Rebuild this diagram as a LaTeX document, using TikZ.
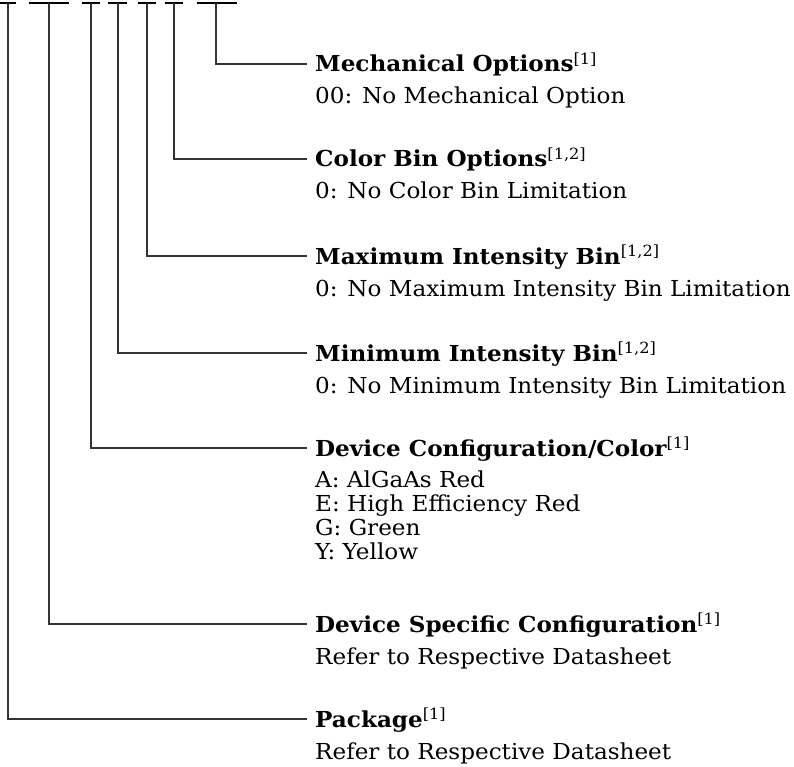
\documentclass[tikz,border=0pt]{standalone}
\usepackage{fontspec}
\setmainfont{DejaVu Serif}[FakeStretch=1.05]
\tikzset{
    titlebox/.style={anchor=west, inner xsep=8pt, inner ysep=0pt, text height=16pt, text depth=0pt,
                     font=\fontsize{22}{24}\selectfont\bfseries},
    descbox/.style={anchor=base west, inner xsep=8pt, inner ysep=0pt, align=left,
                    font=\fontsize{22}{23.7}\selectfont},
    barline/.style={line width=2.4pt, black},
    leadline/.style={line width=1.2pt, black!80},
}
\newcommand{\fnref}[1]{\textsuperscript{\mdseries[#1]}}
\begin{document}
\begin{tikzpicture}[x=1pt, y=-1pt]
            \useasboundingbox (0,0) rectangle (794,767);

            % Part number blanks
            \draw[barline] (0,3) -- (16,3);
            \draw[barline] (29,3) -- (69,3);
            \draw[barline] (82,3) -- (100,3);
            \draw[barline] (108,3) -- (127,3);
            \draw[barline] (138,3) -- (156,3);
            \draw[barline] (165,3) -- (183,3);
            \draw[barline] (197,3) -- (237,3);
            \coordinate (s1) at (8,3);
            \coordinate (s2) at (49,3);
            \coordinate (s3) at (91,3);
            \coordinate (s4) at (118,3);
            \coordinate (s5) at (147,3);
            \coordinate (s6) at (174,3);
            \coordinate (s7) at (216,3);

            % Fields
            \node[titlebox] (mech) at (307,64) {Mechanical Options\fnref{1}};
            \node[descbox] (mechd) at (307,104) {00: No Mechanical Option};

            \node[titlebox] (color) at (307,159) {Color Bin Options\fnref{1,2}};
            \node[descbox] (colord) at (307,199) {0: No Color Bin Limitation};

            \node[titlebox] (maxbin) at (307,256) {Maximum Intensity Bin\fnref{1,2}};
            \node[descbox] (maxbind) at (307,296) {0: No Maximum Intensity Bin Limitation};

            \node[titlebox] (minbin) at (307,353) {Minimum Intensity Bin\fnref{1,2}};
            \node[descbox] (minbind) at (307,393) {0: No Minimum Intensity Bin Limitation};

            \node[titlebox] (devcfg) at (307,448) {Device Configuration/Color\fnref{1}};
            % base of a multi-line node is its last line
            \node[descbox] (devcfgd) at (307,559) {A: AlGaAs Red\\E: High Efficiency Red\\G: Green\\Y: Yellow};

            \node[titlebox] (devspec) at (307,624) {Device Specific Configuration\fnref{1}};
            \node[descbox] (devspecd) at (307,664) {Refer to Respective Datasheet};

            \node[titlebox] (pkg) at (307,719) {Package\fnref{1}};
            \node[descbox] (pkgd) at (307,759) {Refer to Respective Datasheet};

            % Leaders
            \draw[leadline] (s7) |- (mech.west);
            \draw[leadline] (s6) |- (color.west);
            \draw[leadline] (s5) |- (maxbin.west);
            \draw[leadline] (s4) |- (minbin.west);
            \draw[leadline] (s3) |- (devcfg.west);
            \draw[leadline] (s2) |- (devspec.west);
            \draw[leadline] (s1) |- (pkg.west);
        \end{tikzpicture}
\end{document}
